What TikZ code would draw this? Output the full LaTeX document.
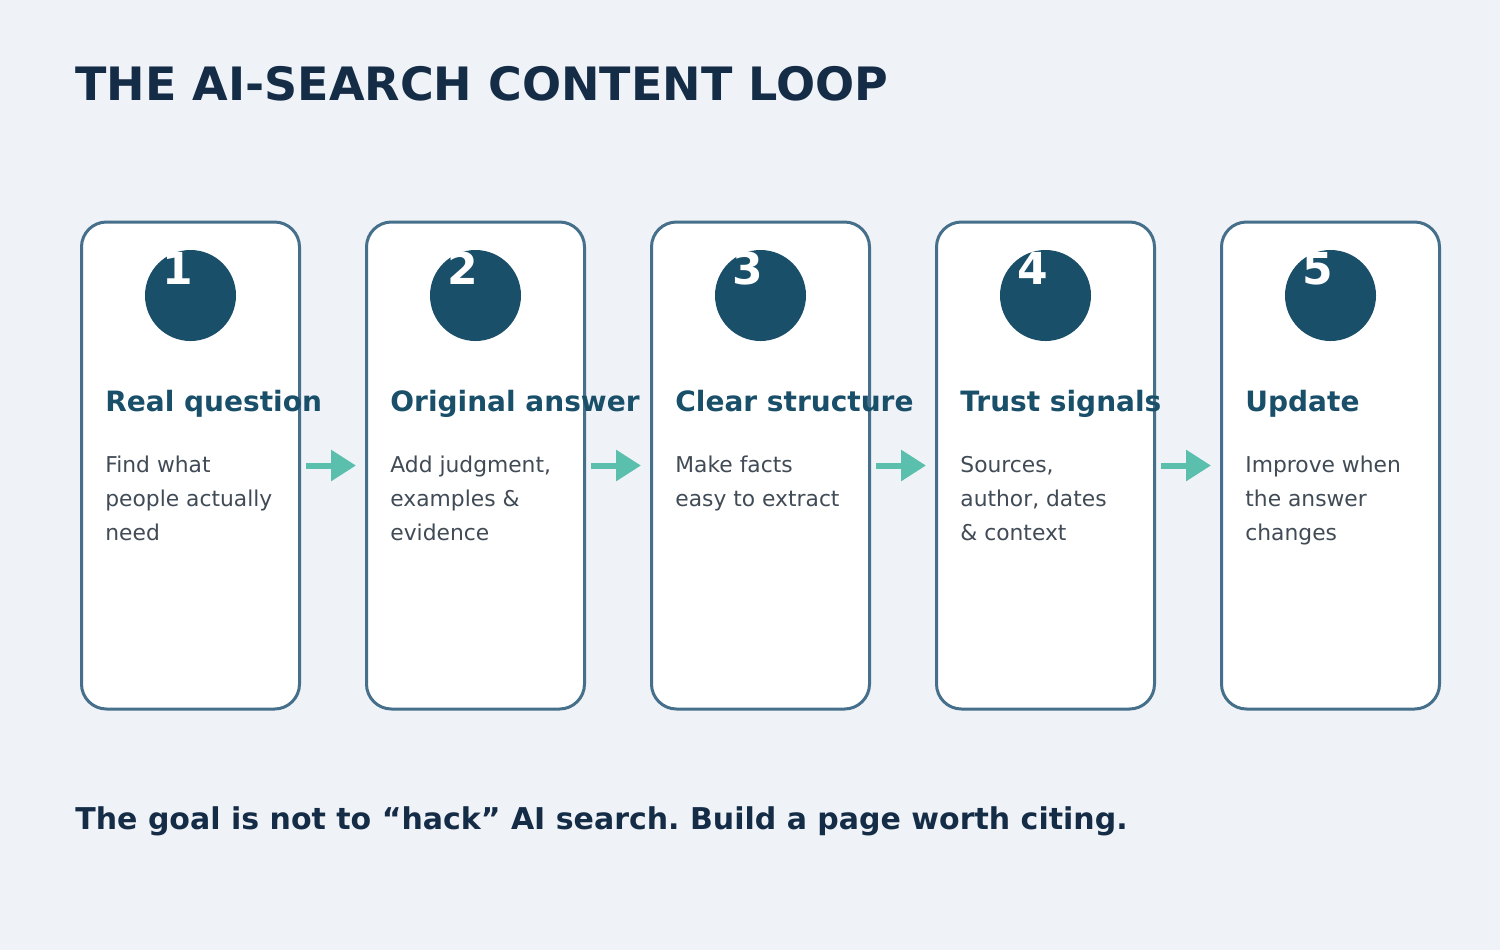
\documentclass[tikz,border=0pt]{standalone}
\usepackage{fontspec}
\setmainfont{DejaVu Sans}
\usepackage{tikz}
\usetikzlibrary{arrows.meta, positioning, calc}
\frenchspacing

\definecolor{bgcol}{HTML}{EFF3F7}
\definecolor{navy}{HTML}{152C47}
\definecolor{cardline}{HTML}{456F8A}
\definecolor{teal}{HTML}{1A4F6A}
\definecolor{bodytext}{HTML}{414B56}
\definecolor{mint}{HTML}{5BBFAD}

\begin{document}
\begin{tikzpicture}[
  x=0.5pt, y=-0.5pt,
  card/.style={draw=cardline, line width=1.5pt, fill=white, rounded corners=12.5pt, minimum width=109pt, minimum height=243.5pt, inner sep=0pt},
  badge/.style={circle, fill=teal, minimum size=45.5pt, inner sep=0pt},
  num/.style={anchor=base west, inner sep=0pt, text=white, font=\fontsize{22}{22}\selectfont\bfseries},
  head/.style={anchor=base west, inner sep=0pt, text=teal, font=\fontsize{14}{16}\selectfont\bfseries},
  body/.style={anchor=base west, inner sep=0pt, align=left, text=bodytext, font=\fontsize{10.9}{17}\selectfont},
  flowarrow/.style={-{Triangle[length=12.5pt, width=15pt]}, line width=3pt, mint}
]

% canvas
\fill[bgcol] (0,0) rectangle (1500,950);
\useasboundingbox (0,0) rectangle (1500,950);

% Title
\node[anchor=base west, inner sep=0pt, text=navy, font=\fontsize{23}{26}\selectfont\bfseries] (title) at (75,100) {THE AI-SEARCH CONTENT LOOP};

% Cards
\node[card] (card1) at (190.5,465.5) {};
\node[card] (card2) at (475.5,465.5) {};
\node[card] (card3) at (760.5,465.5) {};
\node[card] (card4) at (1045.5,465.5) {};
\node[card] (card5) at (1330.5,465.5) {};

% Badges
\node[badge] (dot1) at (190.5,295.5) {};
\node[badge] (dot2) at (475.5,295.5) {};
\node[badge] (dot3) at (760.5,295.5) {};
\node[badge] (dot4) at (1045.5,295.5) {};
\node[badge] (dot5) at (1330.5,295.5) {};

\node[num] (n1) at (162,284) {1};
\node[num] (n2) at (447,284) {2};
\node[num] (n3) at (732,284) {3};
\node[num] (n4) at (1017,284) {4};
\node[num] (n5) at (1302,284) {5};

% Headings
\node[head] (h1) at (105,411) {Real question};
\node[head] (h2) at (390,411) {Original answer};
\node[head] (h3) at (675,411) {Clear structure};
\node[head] (h4) at (960,411) {Trust signals};
\node[head] (h5) at (1245,411) {Update};

% Descriptions (base = last line)
\node[body] (b1) at (105,540) {Find what\\people actually\\need};
\node[body] (b2) at (390,540) {Add judgment,\\examples \&\\evidence};
\node[body] (b3) at (675,506) {Make facts\\easy to extract};
\node[body] (b4) at (960,540) {Sources,\\author, dates\\\& context};
\node[body] (b5) at (1245,540) {Improve when\\the answer\\changes};

% Flows
\draw[flowarrow] ([xshift=2.5pt]card1.east) -- ([xshift=-4.5pt]card2.west);
\draw[flowarrow] ([xshift=2.5pt]card2.east) -- ([xshift=-4.5pt]card3.west);
\draw[flowarrow] ([xshift=2.5pt]card3.east) -- ([xshift=-4.5pt]card4.west);
\draw[flowarrow] ([xshift=2.5pt]card4.east) -- ([xshift=-4.5pt]card5.west);

% Footer
\node[anchor=base west, inner sep=0pt, text=navy, font=\fontsize{15}{18}\selectfont\bfseries] (foot) at (75,829) {The goal is not to “hack” AI search. Build a page worth citing.};
\end{tikzpicture}
\end{document}
